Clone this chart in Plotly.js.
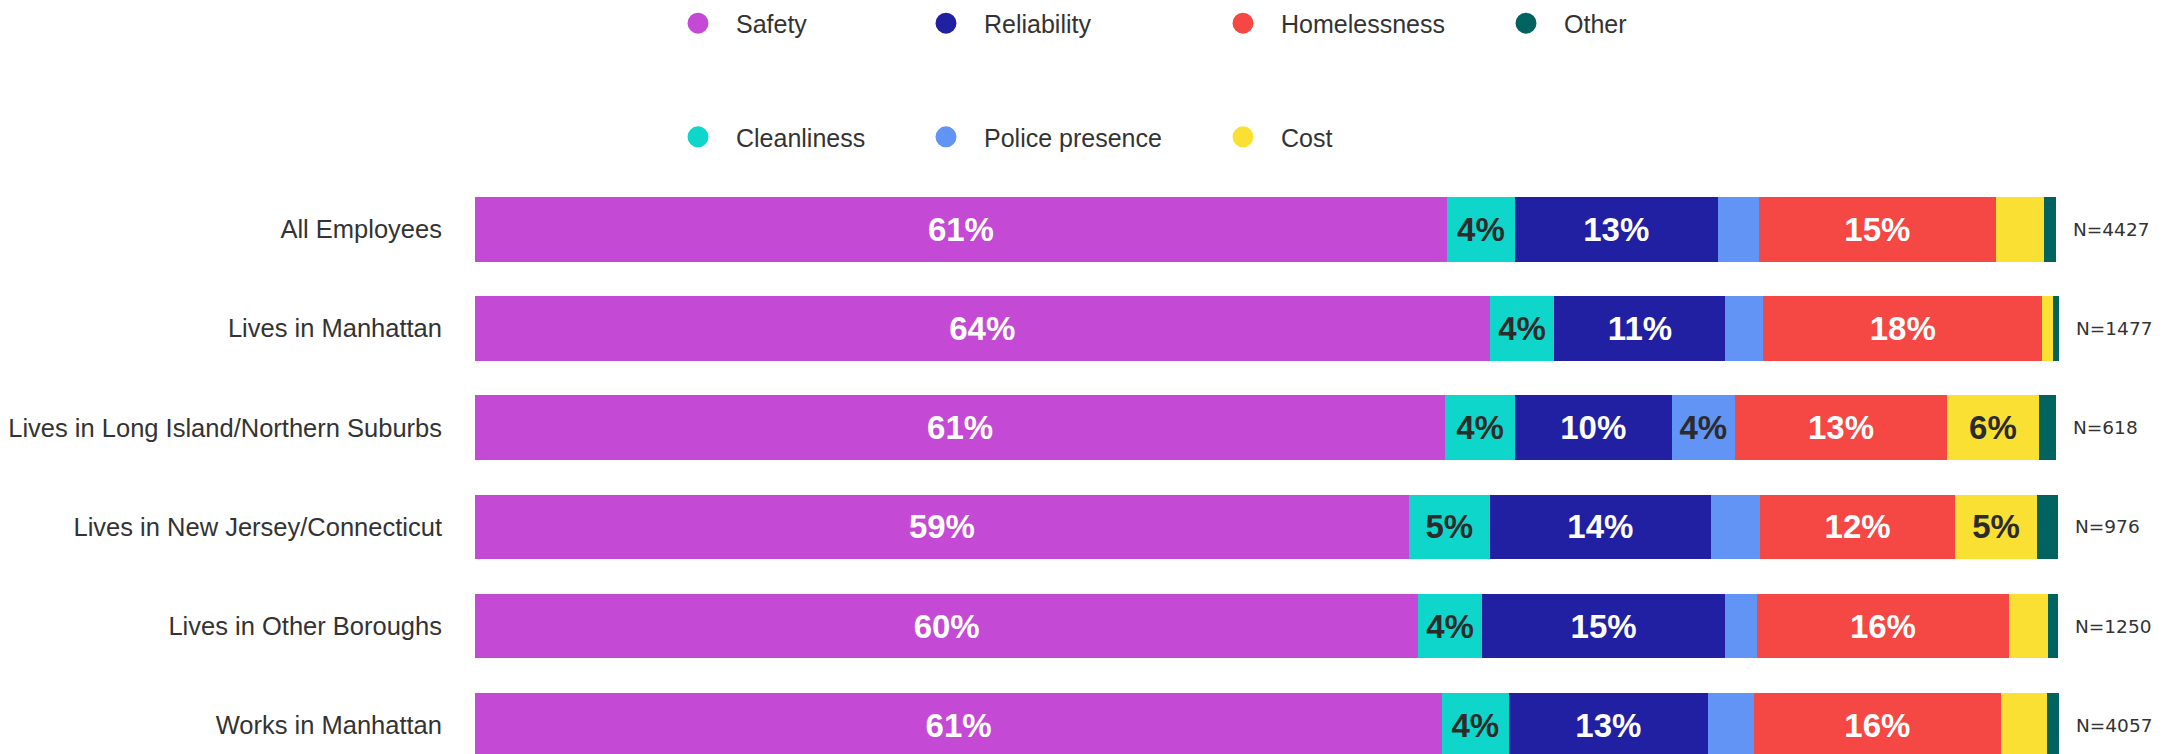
<!DOCTYPE html>
<html>
<head>
<meta charset="utf-8">
<script src="https://cdn.plot.ly/plotly-3.0.1.min.js"></script>
<style>
  html, body { margin: 0; padding: 0; background: #ffffff; }
  #chart { width: 2174px; height: 754px; }
</style>
</head>
<body>
<div id="chart"></div>
<script>
// Grupos (de arriba a abajo) y tamaño de muestra de cada uno
const groups = [
  'All Employees',
  'Lives in Manhattan',
  'Lives in Long Island/Northern Suburbs',
  'Lives in New Jersey/Connecticut',
  'Lives in Other Boroughs',
  'Works in Manhattan',
]
const sampleSizes = [4427, 1477, 618, 976, 1250, 4057]

// Porcentaje de cada motivo por grupo
const safety = [61.4, 64.1, 61.3, 59.0, 59.6, 61.1]
const cleanliness = [4.3, 4.1, 4.4, 5.1, 4.0, 4.2]
const reliability = [12.8, 10.8, 9.9, 14.0, 15.4, 12.6]
const police = [2.6, 2.4, 4.0, 3.1, 2.0, 2.9]
const homelessness = [15.0, 17.6, 13.4, 12.3, 15.9, 15.6]
const cost = [3.0, 0.7, 5.8, 5.2, 2.5, 2.9]
const other = [0.8, 0.4, 1.1, 1.3, 0.6, 0.8]

const seriesNames = ['Safety', 'Cleanliness', 'Reliability', 'Police presence', 'Homelessness', 'Cost', 'Other']
const seriesValues = [safety, cleanliness, reliability, police, homelessness, cost, other]

// Estilos
const seriesColors = ['#c44ad6', '#0ed6cb', '#2120a3', '#6194f5', '#f54844', '#fbe034', '#006360']
const labelColors = ['#ffffff', '#2b2b2b', '#ffffff', '#2b2b2b', '#ffffff', '#2b2b2b', '#ffffff']
const FONT = 'Liberation Sans, Arial, sans-serif'
const W = 2174
const H = 754
const margin = { l: 475, r: 113, t: 150, b: 0 }
const plotW = W - margin.l - margin.r
const plotH = H - margin.t - margin.b

const traces = []

// Barras apiladas, con etiqueta solo si el valor redondeado llega a 4%
seriesNames.forEach((name, i) => {
  const vals = seriesValues[i]
  traces.push({
    type: 'bar',
    orientation: 'h',
    x: vals,
    y: groups,
    name: name,
    marker: { color: seriesColors[i], line: { width: 0 } },
    text: vals.map(v => Math.round(v) >= 4 ? Math.round(v) + '%' : ''),
    textposition: 'inside',
    insidetextanchor: 'middle',
    textangle: 0,
    constraintext: 'none',
    textfont: { family: FONT, size: 33, weight: 'bold', color: labelColors[i] },
    showlegend: false,
    hovertemplate: name + ': %{x:.1f}%<extra></extra>',
  })
})

// Leyenda con círculos: una traza vacía por serie, cada una en su propia leyenda
// (posiciones en píxeles de la figura: borde izquierdo y centro vertical)
const legendSlots = [
  { x: 660, y: 21 },   // Safety
  { x: 660, y: 135 },  // Cleanliness
  { x: 908, y: 21 },   // Reliability
  { x: 908, y: 135 },  // Police presence
  { x: 1205, y: 21 },  // Homelessness
  { x: 1205, y: 135 }, // Cost
  { x: 1488, y: 21 },  // Other
]
const legendId = i => (i === 0 ? 'legend' : 'legend' + (i + 1))

seriesNames.forEach((name, i) => {
  traces.push({
    type: 'scatter',
    mode: 'markers',
    x: [null],
    y: [null],
    name: name,
    legend: legendId(i),
    marker: { color: seriesColors[i], size: 16, line: { color: seriesColors[i], width: 5 } },
    hoverinfo: 'skip',
  })
})

// Total de cada fila para colocar el texto N=
const rowTotals = groups.map((g, r) => seriesValues.reduce((s, vals) => s + vals[r], 0))

const layout = {
  width: W,
  height: H,
  barmode: 'stack',
  bargap: 0.347,
  plot_bgcolor: '#ffffff',
  paper_bgcolor: '#ffffff',
  margin: margin,
  font: { family: FONT, color: '#333333' },
  xaxis: {
    range: [0, 100.2],
    visible: false,
    showgrid: false,
    zeroline: false,
    fixedrange: true,
  },
  yaxis: {
    type: 'category',
    range: [5.29, -0.78],
    showgrid: false,
    zeroline: false,
    showline: false,
    ticks: '',
    ticklabelstandoff: 32,
    tickfont: { family: FONT, size: 25.5, color: '#333333' },
    automargin: false,
    fixedrange: true,
  },
  annotations: groups.map((g, i) => ({
    x: rowTotals[i],
    y: g,
    xref: 'x',
    yref: 'y',
    text: 'N=' + sampleSizes[i],
    showarrow: false,
    xanchor: 'left',
    xshift: 15,
    font: { family: 'DejaVu Sans', size: 18.5, color: '#333333' },
  })),
}

legendSlots.forEach((slot, i) => {
  layout[legendId(i)] = {
    xref: 'paper',
    yref: 'paper',
    x: (slot.x - margin.l) / plotW,
    y: 1 + (margin.t - slot.y) / plotH,
    xanchor: 'left',
    yanchor: 'middle',
    itemwidth: 66,
    bgcolor: 'rgba(0,0,0,0)',
    borderwidth: 0,
    font: { family: FONT, size: 25, color: '#333333' },
  }
})

Plotly.newPlot('chart', traces, layout, { displayModeBar: false, responsive: false })
</script>
</body>
</html>
